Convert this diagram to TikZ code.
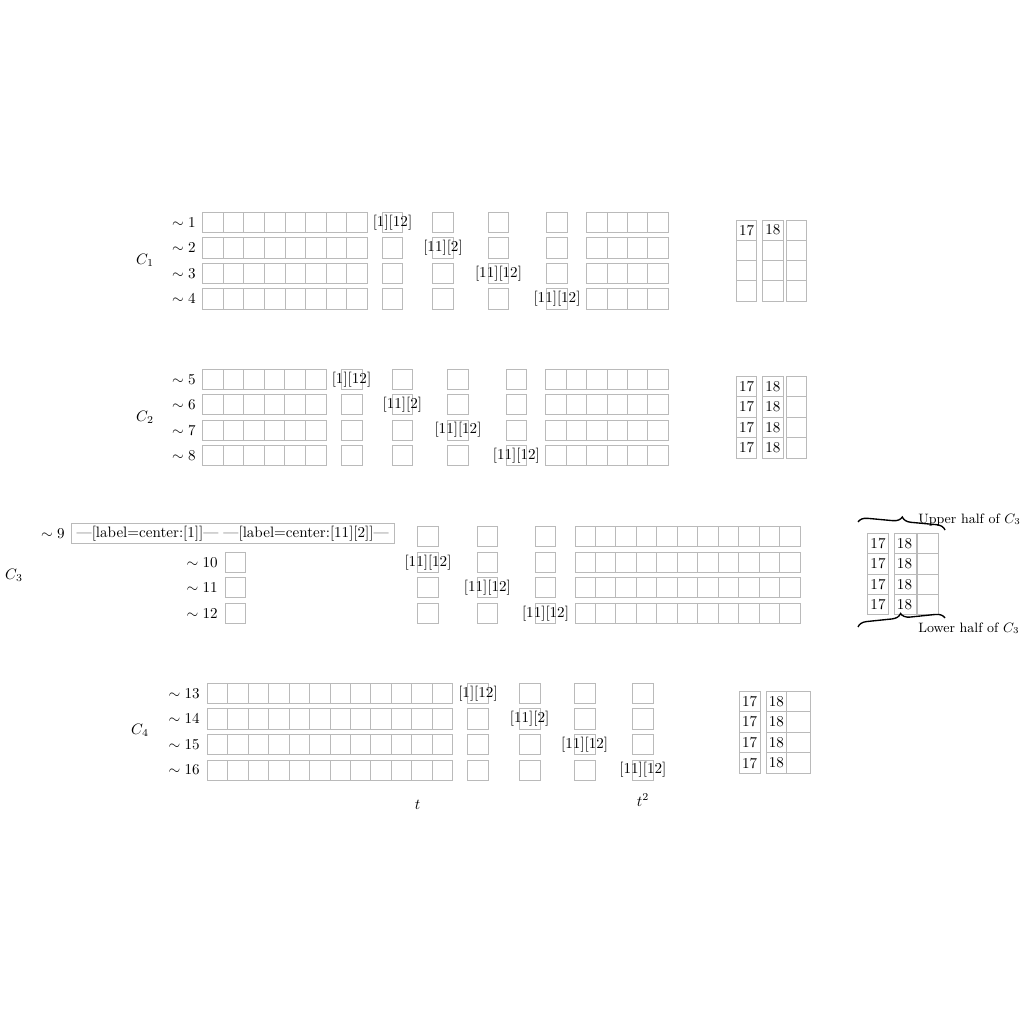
\documentclass[tikz,border=0pt]{standalone}
\usetikzlibrary{decorations.pathreplacing}
\tikzset{
  cellline/.style={draw=black!27, line width=0.6pt},
  rowlab/.style={inner sep=0pt, anchor=east},
  celltext/.style={inner sep=0pt},
  bracepath/.style={decorate, decoration={brace, amplitude=6pt}, line width=0.9pt},
  halftext/.style={font=\small, inner sep=0pt, anchor=west}
}
% n cells in a row: left x, centre y, count, width
\newcommand\cellrow[4]{%
  \foreach \ci in {1,...,#3}{\draw[cellline] ({#1+(\ci-1)*#4},{#2-10.15}) rectangle ({#1+\ci*#4},{#2+10.15});}}
% n cells in a column: left x, width, top y, height, count
\newcommand\colcells[5]{%
  \foreach \cj in {1,...,#5}{\draw[cellline] (#1,{#3+(\cj-1)*#4}) rectangle ({#1+#2},{#3+\cj*#4});}}
\begin{document}
\begin{tikzpicture}[x=0.6627pt,y=-0.6627pt]
\useasboundingbox (0,0) rectangle (1024,1024);

% ---------------- C1 ----------------
\node (c1) at (145,260) {$C_1$};
\foreach \k/\yy in {1/222.3,2/247.9,3/273.5,4/299.1}{
  \node[rowlab] (r\k) at (196,\yy) {$\sim \k$};
  \cellrow{202.7}{\yy}{8}{20.58}
  \foreach \xx in {382.3,432.7,488.3,546.7}{\cellrow{\xx}{\yy}{1}{20.3}}
  \cellrow{586.7}{\yy}{4}{20.4}
}
\node[celltext] (l1) at (392.5,222.3) {[1][12]};
\node[celltext] (l2) at (443,247.9) {[11][2]};
\node[celltext] (l3) at (498.5,273.5) {[11][12]};
\node[celltext] (l4) at (557,299.1) {[11][12]};
\colcells{736.7}{20}{220}{20.25}{4}
\colcells{762.3}{21}{220}{20.25}{4}
\colcells{786}{20.7}{220}{20.25}{4}
\node (m1a) at (746.7,230.1) {17};
\node (m1b) at (772.8,230.1) {18};

% ---------------- C2 ----------------
\node (c2) at (145,417.5) {$C_2$};
\foreach \k/\yy in {5/379.3,6/404.8,7/430.2,8/455.6}{
  \node[rowlab] (r\k) at (196,\yy) {$\sim \k$};
  \cellrow{202.7}{\yy}{6}{20.55}
  \foreach \xx in {341.5,392,447.7,506}{\cellrow{\xx}{\yy}{1}{20.5}}
  \cellrow{545.7}{\yy}{6}{20.43}
}
\node[celltext] (l5) at (351.5,379.3) {[1][12]};
\node[celltext] (l6) at (402.3,404.8) {[11][2]};
\node[celltext] (l7) at (458,430.2) {[11][12]};
\node[celltext] (l8) at (516.3,455.6) {[11][12]};
\colcells{736.7}{20}{376}{20.5}{4}
\colcells{762.3}{21}{376}{20.5}{4}
\colcells{786}{20.7}{376}{20.5}{4}
\foreach \j in {0,1,2,3}{
  \node (m2a\j) at (746.7,{386.25+20.5*\j}) {17};
  \node (m2b\j) at (772.8,{386.25+20.5*\j}) {18};
}

% ---------------- C3 ----------------
\node (c3) at (14,575) {$C_3$};
\node[rowlab] (r9) at (65,533.3) {$\sim 9$};
\node[draw=black!27, line width=0.6pt, minimum width=323.3*0.6627pt, minimum height=20*0.6627pt, inner sep=0pt] (box9) at (232.7,533.3)
  {---[label=center:[1]]--- ---[label=center:[11][2]]---};
\foreach \xx in {417.7,477.3,535}{\cellrow{\xx}{536.7}{1}{20.6}}
\cellrow{575}{536.7}{11}{20.45}
\foreach \k/\yy in {10/562.3,11/587.7,12/613.3}{
  \node[rowlab] (r\k) at (218,\yy) {$\sim \k$};
  \cellrow{225.7}{\yy}{1}{20}
  \foreach \xx in {417.7,477.3,535}{\cellrow{\xx}{\yy}{1}{20.6}}
  \cellrow{575}{\yy}{11}{20.45}
}
\node[celltext] (l10) at (428,562.3) {[11][12]};
\node[celltext] (l11) at (487.3,587.7) {[11][12]};
\node[celltext] (l12) at (545.5,613.3) {[11][12]};
\colcells{867.7}{20.6}{533.3}{20.4}{4}
\colcells{894.3}{21.7}{533.3}{20.4}{4}
\colcells{917.3}{21}{533.3}{20.4}{4}
\foreach \j in {0,1,2,3}{
  \node (m3a\j) at (878,{543.5+20.4*\j}) {17};
  \node (m3b\j) at (904.5,{543.5+20.4*\j}) {18};
}
\coordinate (ub1) at (858,522);
\coordinate (ub2) at (945,530);
\coordinate (lb1) at (858,627);
\coordinate (lb2) at (945,618);
\draw[bracepath] (ub1) -- (ub2);
\draw[bracepath] (lb1) -- (lb2);
\node[halftext] (uh) at (918,520) {Upper half of $C_3$};
\node[halftext] (lh) at (918,628) {Lower half of $C_3$};

% ---------------- C4 ----------------
\node (c4) at (140,730) {$C_4$};
\foreach \k/\yy in {13/693.3,14/718.9,15/744.5,16/770.1}{
  \node[rowlab] (r\k) at (200,\yy) {$\sim \k$};
  \cellrow{207.3}{\yy}{12}{20.45}
  \foreach \xx in {467.7,519.3,574.3,632.3}{\cellrow{\xx}{\yy}{1}{20.7}}
}
\node[celltext] (l13) at (478,693.3) {[1][12]};
\node[celltext] (l14) at (529.6,718.9) {[11][2]};
\node[celltext] (l15) at (584.7,744.5) {[11][12]};
\node[celltext] (l16) at (642.8,770.1) {[11][12]};
\colcells{739.3}{20.7}{691}{20.6}{4}
\colcells{766}{20.7}{691}{20.6}{4}
\colcells{786.7}{23.3}{691}{20.6}{4}
\foreach \j in {0,1,2,3}{
  \node (m4a\j) at (749.6,{701.3+20.6*\j}) {17};
  \node (m4b\j) at (776.3,{701.3+20.6*\j}) {18};
}
\node (tlab) at (417.5,805) {$t$};
\node (t2lab) at (643,800) {$t^2$};
\end{tikzpicture}
\end{document}
